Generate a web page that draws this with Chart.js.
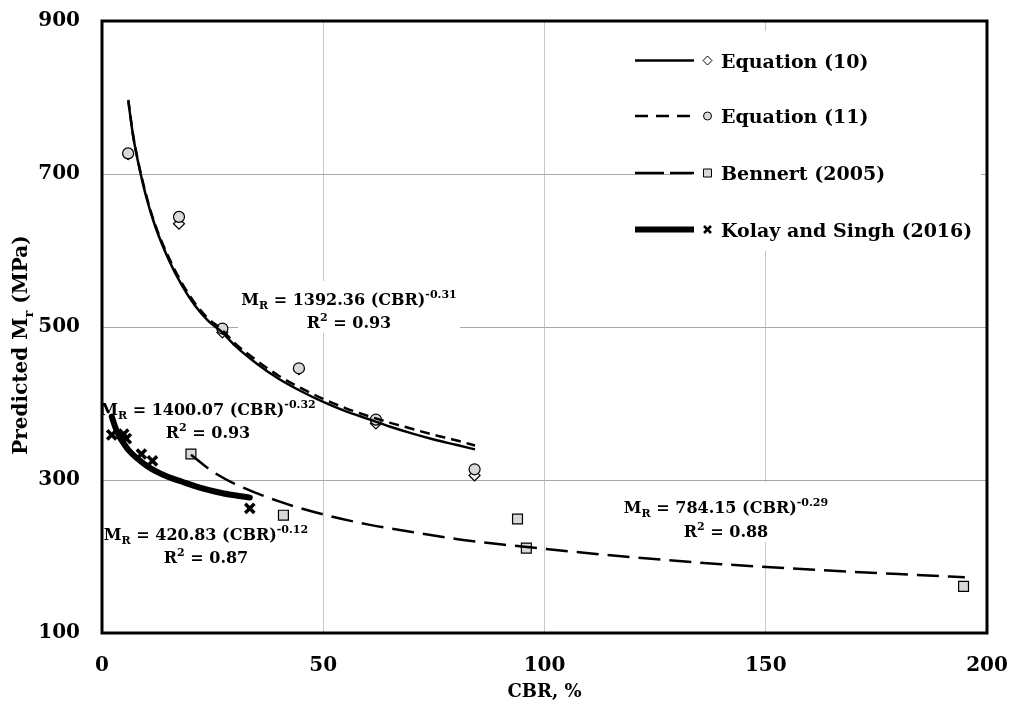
<!DOCTYPE html>
<html>
<head>
<meta charset="utf-8">
<title>Predicted Mr vs CBR</title>
<script src="https://cdn.jsdelivr.net/npm/chart.js@4.4.1/dist/chart.umd.min.js"></script>
<style>
  html, body { margin: 0; padding: 0; background: #fff; }
</style>
</head>
<body>
<canvas id="mrChart" width="1011" height="709"></canvas>
<script>
/***********************
 * DATA
 ***********************/
// measured points
const eq10Cbr = [5.9, 17.4, 27.2, 44.5, 61.9, 84.2];
const eq10Mr = [726, 635, 493, 445, 374, 306];
const eq11Cbr = [5.9, 17.4, 27.2, 44.5, 61.9, 84.2];
const eq11Mr = [727, 644, 498, 446, 379, 314];
const bennertCbr = [20.1, 41.0, 93.9, 95.9, 194.7];
const bennertMr = [334, 254, 249, 211, 161];
const kolayCbr = [2.2, 4.9, 5.5, 8.9, 11.4, 33.4];
const kolayMr = [359, 360, 354, 334, 325, 263];

// trend curves
const eq10CurveCbr = [5.95, 7, 8, 10, 12, 15, 18, 21, 24, 27, 30, 35, 40, 45, 50, 55, 60, 65, 70, 75, 80, 84.3];
const eq10CurveMr = [795, 751, 720, 670, 632, 589, 555, 528, 508, 494, 476, 452, 432, 416, 402, 390, 380, 370, 361, 353, 346, 340];
const eq11CurveCbr = [5.95, 7, 8, 10, 12, 15, 18, 21, 24, 27, 30, 35, 40, 45, 50, 55, 60, 65, 70, 75, 80, 84.3];
const eq11CurveMr = [797, 752, 721, 672, 634, 592, 558, 531, 511, 497, 479, 456, 436, 420, 406, 394, 384, 375, 367, 359, 352, 345];
const bennertCurveCbr = [20.1, 25, 30, 40, 50, 60, 70, 80, 90, 100, 120, 140, 160, 180, 195];
const bennertCurveMr = [333, 311, 295, 272, 255, 242, 232, 223, 216, 210, 199, 190, 183, 177, 173];
const kolayCurveCbr = [2.2, 3, 4, 5, 6, 8, 10, 12, 15, 18, 21, 24, 27, 30, 33.4];
const kolayCurveMr = [383, 369, 356, 347, 339, 328, 319, 312, 304, 298, 292, 287, 283, 280, 277];

const xTicks = [0, 50, 100, 150, 200];
const yTicks = [100, 300, 500, 700, 900];

const seriesNames = ["Equation (10)", "Equation (11)", "Bennert (2005)", "Kolay and Singh (2016)"];

/***********************
 * STYLE
 ***********************/
const FONT = '"DejaVu Serif", "Liberation Serif", serif';
const MARK_FILL = "#d9d9d9";
const SHORT_DASH = [10, 6];
const LONG_DASH = [22, 9];

const pts = (xs, ys) => xs.map((x, i) => ({ x, y: ys[i] }));

function curve(label, xs, ys, width, dash, order) {
    return {
        label, data: pts(xs, ys), showLine: true, pointRadius: 0,
        borderColor: "#000", borderWidth: width, borderDash: dash,
        borderCapStyle: width > 4 ? "round" : "butt",
        cubicInterpolationMode: "monotone", fill: false, order
    };
}

function marks(label, xs, ys, style, radius, fill, bw, order) {
    return {
        label, data: pts(xs, ys), showLine: false, pointStyle: style,
        pointRadius: radius, pointBackgroundColor: fill, pointBorderColor: "#000",
        pointBorderWidth: bw, order
    };
}

/***********************
 * TEXT HELPERS
 ***********************/
// parts: [text, kind] with kind "", "sub" or "sup"
function richWidth(ctx, parts, size) {
    let w = 0;
    parts.forEach(([t, k]) => {
        ctx.font = `bold ${k ? Math.round(size * 0.66) : size}px ${FONT}`;
        w += ctx.measureText(t).width;
    });
    return w;
}

function drawRich(ctx, parts, cx, baseline, size) {
    let x = cx - richWidth(ctx, parts, size) / 2;
    ctx.textAlign = "left";
    ctx.textBaseline = "alphabetic";
    ctx.fillStyle = "#000";
    parts.forEach(([t, k]) => {
        const s = k ? Math.round(size * 0.66) : size;
        ctx.font = `bold ${s}px ${FONT}`;
        const dy = k === "sub" ? size * 0.28 : k === "sup" ? -size * 0.45 : 0;
        ctx.fillText(t, x, baseline + dy);
        x += ctx.measureText(t).width;
    });
}

const eqLabels = [
    { cx: 349, y1: 305, y2: 328, coef: "1392.36", exp: "-0.31", r2: "0.93", box: [238, 281, 222, 52] },
    { cx: 726, y1: 513, y2: 537, coef: "784.15", exp: "-0.29", r2: "0.88", box: [616, 482, 220, 60] },
    { cx: 208, y1: 415, y2: 438, coef: "1400.07", exp: "-0.32", r2: "0.93", box: null },
    { cx: 206, y1: 540, y2: 563, coef: "420.83", exp: "-0.12", r2: "0.87", box: null }
];

/***********************
 * DECORATION PLUGIN
 ***********************/
const decor = {
    id: "decor",
    beforeDatasetsDraw(chart) {
        const ctx = chart.ctx;
        ctx.save();
        ctx.fillStyle = "#fff";
        ctx.fillRect(692, 31, 289, 220);
        eqLabels.forEach(l => { if (l.box) ctx.fillRect(...l.box); });
        ctx.restore();
    },
    afterDatasetsDraw(chart) {
        const ctx = chart.ctx;
        const a = chart.chartArea;
        ctx.save();

        // equation labels
        eqLabels.forEach(l => {
            drawRich(ctx, [["M", ""], ["R", "sub"], [` = ${l.coef} (CBR)`, ""], [l.exp, "sup"]], l.cx, l.y1, 16);
            drawRich(ctx, [["R", ""], ["2", "sup"], [` = ${l.r2}`, ""]], l.cx, l.y2, 16);
        });

        // plot frame
        ctx.strokeStyle = "#000";
        ctx.lineWidth = 3;
        ctx.strokeRect(a.left, a.top, a.right - a.left, a.bottom - a.top);

        // legend
        const rows = [60.5, 116, 173, 229.5];
        const lineStyles = [[2.5, []], [2.5, [13, 8]], [2.5, [29, 6]], [6, []]];
        rows.forEach((y, i) => {
            ctx.beginPath();
            ctx.lineWidth = lineStyles[i][0];
            ctx.setLineDash(lineStyles[i][1]);
            ctx.moveTo(635, y);
            ctx.lineTo(694, y);
            ctx.stroke();
            ctx.setLineDash([]);

            const mx = 707.5;
            ctx.lineWidth = 1;
            ctx.beginPath();
            if (i === 0) {
                ctx.moveTo(mx, y - 4.5); ctx.lineTo(mx + 4.5, y); ctx.lineTo(mx, y + 4.5); ctx.lineTo(mx - 4.5, y); ctx.closePath();
                ctx.fillStyle = "#fff"; ctx.fill(); ctx.stroke();
            } else if (i === 1) {
                ctx.arc(mx, y, 4, 0, Math.PI * 2);
                ctx.fillStyle = MARK_FILL; ctx.fill(); ctx.stroke();
            } else if (i === 2) {
                ctx.rect(mx - 4, y - 4, 8, 8);
                ctx.fillStyle = MARK_FILL; ctx.fill(); ctx.stroke();
            } else {
                ctx.lineWidth = 2.5;
                ctx.moveTo(mx - 3.5, y - 3.5); ctx.lineTo(mx + 3.5, y + 3.5);
                ctx.moveTo(mx + 3.5, y - 3.5); ctx.lineTo(mx - 3.5, y + 3.5);
                ctx.stroke();
            }

            ctx.fillStyle = "#000";
            ctx.font = `bold 19px ${FONT}`;
            ctx.textAlign = "left";
            ctx.textBaseline = "alphabetic";
            ctx.fillText(seriesNames[i], 721, y + 7);
        });

        // axis titles
        drawRich(ctx, [["CBR, %", ""]], (a.left + a.right) / 2, 697, 18);
        ctx.translate(27, 345);
        ctx.rotate(-Math.PI / 2);
        drawRich(ctx, [["Predicted M", ""], ["r", "sub"], [" (MPa)", ""]], 0, 0, 20);
        ctx.restore();
    }
};

/***********************
 * CHART
 ***********************/
new Chart(document.getElementById("mrChart"), {
    type: "scatter",
    data: {
        datasets: [
            curve("Kolay curve", kolayCurveCbr, kolayCurveMr, 6, [], 0),
            curve("Eq10 curve", eq10CurveCbr, eq10CurveMr, 2.5, [], 1),
            curve("Eq11 curve", eq11CurveCbr, eq11CurveMr, 2.5, SHORT_DASH, 2),
            curve("Bennert curve", bennertCurveCbr, bennertCurveMr, 2.5, LONG_DASH, 3),
            marks(seriesNames[3], kolayCbr, kolayMr, "crossRot", 6.5, "#000", 3.5, 4),
            marks(seriesNames[2], bennertCbr, bennertMr, "rect", 7, MARK_FILL, 1.2, 5),
            marks(seriesNames[1], eq11Cbr, eq11Mr, "circle", 5.5, MARK_FILL, 1.2, 6),
            marks(seriesNames[0], eq10Cbr, eq10Mr, "rectRot", 5.5, "#f4f4f4", 1.2, 7)
        ]
    },
    options: {
        responsive: false,
        animation: false,
        layout: { autoPadding: false, padding: { top: 21, right: 24, left: 0, bottom: 0 } },
        plugins: { legend: { display: false }, tooltip: { enabled: false } },
        scales: {
            x: {
                type: "linear", min: 0, max: 200,
                afterBuildTicks: s => { s.ticks = xTicks.map(v => ({ value: v })); },
                afterFit: s => { s.height = 76; s.paddingLeft = 0; s.paddingRight = 0; },
                ticks: { color: "#000", padding: 21, font: { family: FONT, size: 20, weight: "bold" } },
                grid: { color: c => (c.tick && (c.tick.value === 0 || c.tick.value === 200)) ? "rgba(0,0,0,0)" : "#c6c6c6", lineWidth: 1, drawTicks: false },
                border: { display: false }
            },
            y: {
                type: "linear", min: 100, max: 900,
                afterBuildTicks: s => { s.ticks = yTicks.map(v => ({ value: v })); },
                afterFit: s => { s.width = 102; s.paddingTop = 0; s.paddingBottom = 0; },
                ticks: { color: "#000", padding: 22, font: { family: FONT, size: 20, weight: "bold" } },
                grid: { color: c => (c.tick && (c.tick.value === 100 || c.tick.value === 900)) ? "rgba(0,0,0,0)" : "#a8a8a8", lineWidth: 1, drawTicks: false },
                border: { display: false }
            }
        }
    },
    plugins: [decor]
});
</script>
</body>
</html>
